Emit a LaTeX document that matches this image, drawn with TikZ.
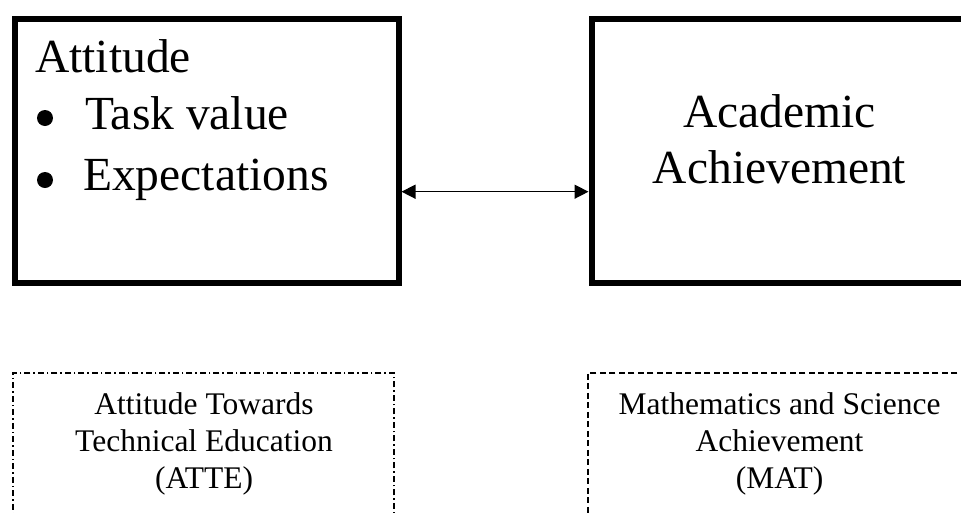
\documentclass[tikz,border=0pt]{standalone}
\usepackage{fontspec}
\setmainfont{Liberation Serif}
\usetikzlibrary{arrows.meta}
\begin{document}
\begin{tikzpicture}[x=1pt,y=-1pt,
  thickbox/.style={draw=black,line width=6pt,fill=none,inner sep=0pt},
  dashdotbox/.style={draw=black,line width=1.5pt,dash pattern=on 6pt off 3pt on 1.5pt off 3pt,inner sep=0pt},
  dashbox/.style={draw=black,line width=1.5pt,dash pattern=on 6pt off 3.5pt,inner sep=0pt},
  bigtxt/.style={inner sep=0pt,font=\fontsize{47.5}{56}\selectfont},
  smalltxt/.style={inner sep=0pt,anchor=base,font=\fontsize{31.5}{37}\selectfont},
  bul/.style={circle,fill=black,inner sep=0pt,minimum size=16pt},
  arr/.style={line width=1.5pt,{Triangle[length=14pt,width=14pt]}-{Triangle[length=14pt,width=14pt]}}]
\clip (0,0) rectangle (961,512);
\fill[white] (0,0) rectangle (961,512);
% top boxes
\node[thickbox,anchor=north west,minimum width=383.5pt,minimum height=264pt] (att) at (12,15.5) {};
\node[thickbox,anchor=north west,minimum width=382pt,minimum height=264pt] (ach) at (588.5,15.5) {};
% left box text
\node[bigtxt,anchor=base west] (t1) at (35,72) {Attitude};
\node[bul] (b1) at (45,118) {};
\node[bigtxt,anchor=base west] (t2) at (85,129) {Task value};
\node[bul] (b2) at (45,180) {};
\node[bigtxt,anchor=base west] (t3) at (83,190) {Expectations};
% right box text
\node[bigtxt,anchor=base] (r1) at (779.5,127) {Academic};
\node[bigtxt,anchor=base] (r2) at (779.5,183) {Achievement};
% arrow
\coordinate (arry) at (0,191.7);
\draw[arr] (att.east |- arry) -- (ach.west |- arry);
% bottom dashed boxes
\node[dashdotbox,anchor=north west,minimum width=381pt,minimum height=160pt] (atte) at (12,372) {};
\node[dashbox,anchor=north west,minimum width=385pt,minimum height=160pt] (mat) at (587,372) {};
\node[smalltxt] (l1) at (204,414) {Attitude Towards};
\node[smalltxt] (l2) at (204,451) {Technical Education};
\node[smalltxt] (l3) at (204,488) {(ATTE)};
\node[smalltxt] (m1) at (779.5,414) {Mathematics and Science};
\node[smalltxt] (m2) at (779.5,451) {Achievement};
\node[smalltxt] (m3) at (779.5,488) {(MAT)};
\end{tikzpicture}
\end{document}
